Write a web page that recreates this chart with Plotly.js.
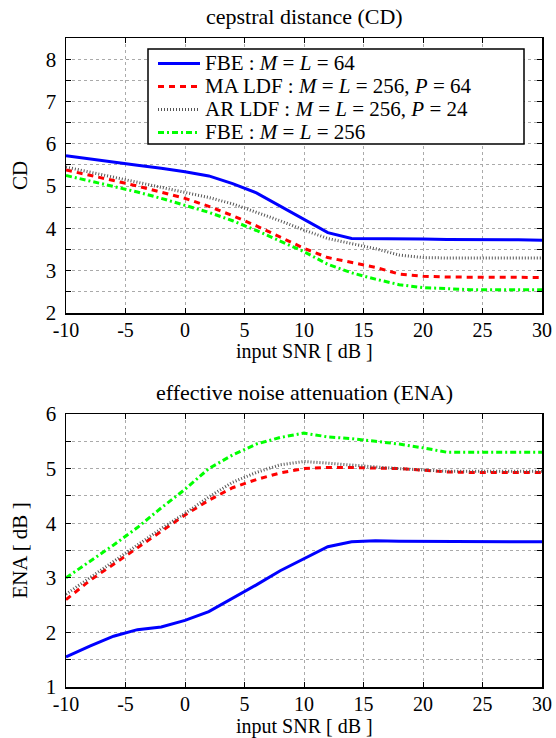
<!DOCTYPE html>
<html>
<head>
<meta charset="utf-8">
<script src="https://cdn.plot.ly/plotly-3.0.1.min.js"></script>
<style>html,body{margin:0;padding:0;background:#fff}#chart{width:556px;height:738px}</style>
</head>
<body>
<div id="chart"></div>
<script>
// ---- data ----
const snr = [-10,-8,-6,-4,-2,0,2,4,6,8,10,12,14,16,18,20,22,24,26,28,30];

const cdFBE64   = [5.72,5.64,5.56,5.49,5.42,5.34,5.24,5.06,4.84,4.52,4.20,3.90,3.76,3.76,3.75,3.75,3.74,3.74,3.73,3.73,3.72];
const cdMALDF   = [5.38,5.26,5.13,5.00,4.86,4.71,4.52,4.30,4.06,3.80,3.53,3.31,3.19,3.08,2.92,2.87,2.85,2.85,2.85,2.84,2.84];
const cdARLDF   = [5.45,5.33,5.22,5.10,4.98,4.86,4.73,4.58,4.38,4.18,3.96,3.76,3.64,3.52,3.37,3.31,3.30,3.30,3.30,3.30,3.30];
const cdFBE256  = [5.25,5.12,4.99,4.86,4.71,4.55,4.38,4.18,3.95,3.70,3.45,3.15,2.95,2.80,2.67,2.60,2.57,2.55,2.55,2.55,2.55];

const enaFBE64  = [1.55,1.75,1.93,2.05,2.10,2.22,2.38,2.62,2.87,3.13,3.35,3.57,3.66,3.68,3.67,3.67,3.67,3.66,3.66,3.66,3.66];
const enaMALDF  = [2.60,2.95,3.25,3.55,3.85,4.15,4.42,4.65,4.80,4.92,5.00,5.02,5.02,5.01,5.00,4.97,4.94,4.93,4.93,4.93,4.93];
const enaARLDF  = [2.70,3.00,3.30,3.60,3.90,4.18,4.48,4.75,4.93,5.07,5.13,5.10,5.06,5.03,5.00,4.97,4.95,4.95,4.95,4.95,4.95];
const enaFBE256 = [3.00,3.30,3.60,3.92,4.28,4.62,5.00,5.25,5.45,5.57,5.65,5.58,5.55,5.50,5.45,5.38,5.30,5.30,5.30,5.30,5.30];

const seriesNames = [
  'FBE : <i>M</i> = <i>L</i> = 64',
  'MA LDF : <i>M</i> = <i>L</i> = 256, <i>P</i> = 64',
  'AR LDF : <i>M</i> = <i>L</i> = 256, <i>P</i> = 24',
  'FBE : <i>M</i> = <i>L</i> = 256'
];
const xTitle = 'input SNR [ dB ]';
const xTickVals = [-10,-5,0,5,10,15,20,25,30];
const xTickText = ['-10','-5','0','5','10','15','20','25','30'];
const cdTickVals = [2,2.5,3,3.5,4,4.5,5,5.5,6,6.5,7,7.5,8];
const cdTickText = ['2','','3','','4','','5','','6','','7','','8'];
const enaTickVals = [1,1.5,2,2.5,3,3.5,4,4.5,5,5.5,6];
const enaTickText = ['1','','2','','3','','4','','5','','6'];

// ---- styles ----
const styles = [
  {color:'#0000ff', width:3, dash:'solid'},
  {color:'#ff0000', width:3, dash:'6px,5px'},
  {color:'#555555', width:3, dash:'1px,2px'},
  {color:'#00ff00', width:3, dash:'6px,3px,2px,3px'}
];
const cdSeries = [cdFBE64, cdMALDF, cdARLDF, cdFBE256];
const enaSeries = [enaFBE64, enaMALDF, enaARLDF, enaFBE256];

const traces = [];
cdSeries.forEach((y,i)=>traces.push({x:snr,y:y,type:'scatter',mode:'lines',
  name:'<span style="font-size:21px">'+seriesNames[i]+'</span>',
  line:Object.assign({},styles[i]),xaxis:'x',yaxis:'y',showlegend:true}));
enaSeries.forEach((y,i)=>traces.push({x:snr,y:y,type:'scatter',mode:'lines',name:seriesNames[i],
  line:Object.assign({},styles[i]),xaxis:'x2',yaxis:'y2',showlegend:false}));

const FONT = 'Liberation Serif, Times New Roman, serif';
const W=556,H=738;
const xl=66/W, xr=542/W;
function yd(top,bot){return [1-bot/H,1-top/H];}

function xax(anchor){return {
  domain:[xl,xr], range:[-10,30], anchor:anchor,
  tickvals:xTickVals, ticktext:xTickText,
  ticks:'inside', ticklen:5, tickcolor:'#000', tickwidth:1,
  showline:true, linecolor:'#000', linewidth:1.5, mirror:'allticks',
  showgrid:true, gridcolor:'#aaaaaa', griddash:'dot', gridwidth:1,
  zeroline:false, tickfont:{family:FONT,size:20,color:'#000'}, ticklabelstandoff:-2
};}
function yax(anchor,dom,rng,tv,tt,ttl){return {
  domain:dom, range:rng, anchor:anchor,
  tickvals:tv, ticktext:tt,
  ticks:'inside', ticklen:5, tickcolor:'#000', tickwidth:1,
  showline:true, linecolor:'#000', linewidth:1.5, mirror:'allticks',
  showgrid:true, gridcolor:'#aaaaaa', griddash:'dot', gridwidth:1,
  zeroline:false, tickfont:{family:FONT,size:21,color:'#000'}, ticklabelstandoff:4,
  title:{text:ttl, font:{family:FONT,size:21,color:'#000'}, standoff:12}
};}

const layout = {
  width:W, height:H, margin:{l:0,r:0,t:0,b:0},
  paper_bgcolor:'#fff', plot_bgcolor:'#fff',
  showlegend:true,
  xaxis:xax('y'),
  yaxis:yax('x', yd(38,313), [2,8.5], cdTickVals, cdTickText, 'CD'),
  xaxis2:xax('y2'),
  yaxis2:yax('x2', yd(414,687), [1,6], enaTickVals, enaTickText, 'ENA [ dB ]'),
  legend:{x:153/W, y:1-47/H, xanchor:'left', yanchor:'top', bgcolor:'rgba(0,0,0,0)',
    borderwidth:0, font:{family:FONT,size:15.4,color:'#000'},
    tracegroupgap:0, itemwidth:42},
  shapes:[
    {type:'rect', xref:'paper', yref:'paper', x0:148/W, x1:524/W, y0:1-144/H, y1:1-49/H,
     fillcolor:'#fff', line:{color:'#000', width:1.5}, layer:'above'}
  ],
  annotations:[
    {text:'cepstral distance (CD)', xref:'paper', yref:'paper', x:(xl+xr)/2, y:1-16/H,
     xanchor:'center', yanchor:'middle', showarrow:false, font:{family:FONT,size:22,color:'#000'}},
    {text:'effective noise attenuation (ENA)', xref:'paper', yref:'paper', x:(xl+xr)/2, y:1-393/H,
     xanchor:'center', yanchor:'middle', showarrow:false, font:{family:FONT,size:22,color:'#000'}},
    {text:xTitle, xref:'paper', yref:'paper', x:(xl+xr)/2, y:1-351/H,
     xanchor:'center', yanchor:'middle', showarrow:false, font:{family:FONT,size:20,color:'#000'}},
    {text:xTitle, xref:'paper', yref:'paper', x:(xl+xr)/2, y:1-726/H,
     xanchor:'center', yanchor:'middle', showarrow:false, font:{family:FONT,size:20,color:'#000'}}
  ]
};

Plotly.newPlot('chart', traces, layout, {staticPlot:true, displayModeBar:false});
</script>
</body>
</html>
